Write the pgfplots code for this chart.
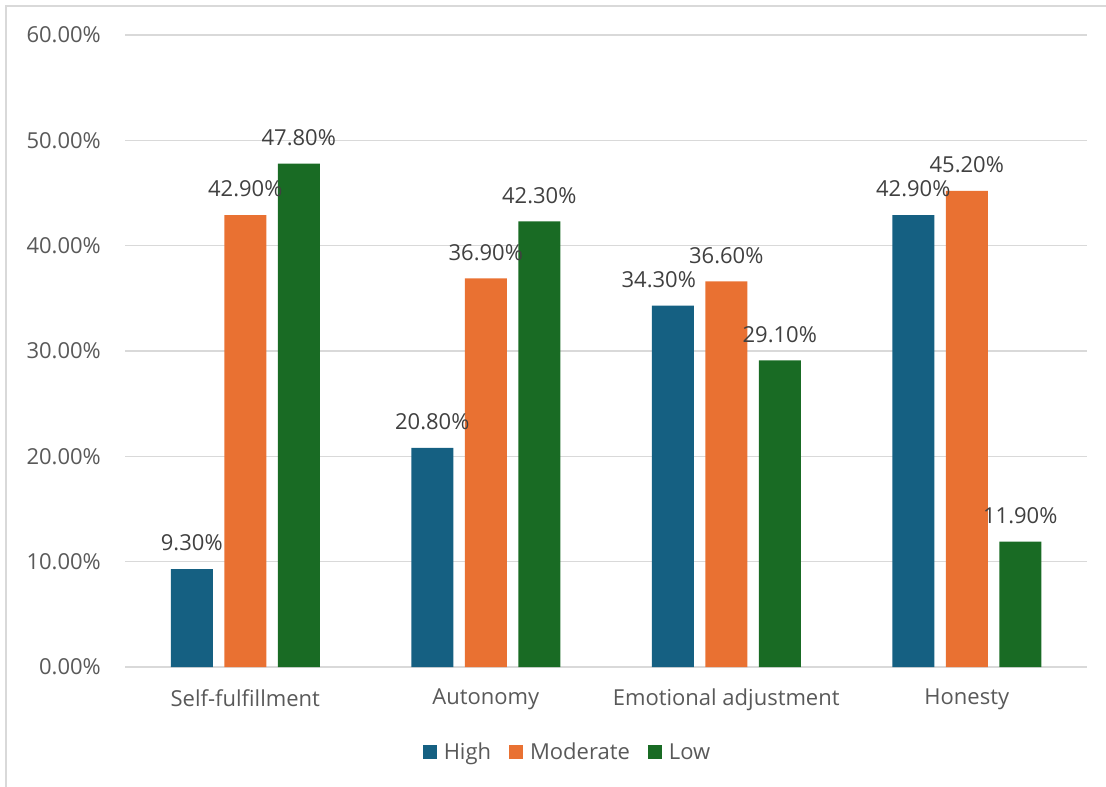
\documentclass[border=0pt]{standalone}
\usepackage{fontspec}
\setmainfont{Open Sans}
\usepackage{pgfplots}
\pgfplotsset{compat=1.18}

\definecolor{cHigh}{HTML}{156082}
\definecolor{cMod}{HTML}{E97132}
\definecolor{cLow}{HTML}{196B24}
\definecolor{gridgray}{HTML}{D9D9D9}
\definecolor{ticktext}{HTML}{595959}
\definecolor{valtext}{HTML}{404040}

\newcommand{\chartfont}{\fontsize{22bp}{26bp}\selectfont}
% value label nudged left so it clears its neighbour
\newcommand{\nudgeleft}[1]{\makebox[0pt]{\kern-28bp #1}}

\begin{document}
\begin{tikzpicture}
\useasboundingbox (0,0) rectangle (1106bp,-787bp);
% chart frame
\draw[gridgray, line width=1.5bp] (6bp,-787bp) -- (6bp,-6bp) -- (1106bp,-6bp);
\begin{axis}[
  at={(125bp,-667bp)}, anchor=south west,
  scale only axis,
  width=962bp, height=632bp,
  xmin=-0.5, xmax=3.5,
  ymin=0, ymax=60,
  ybar=11.5bp, bar width=42bp,
  xtick={0,1,2,3},
  xticklabels={Self-fulfillment, Autonomy, Emotional adjustment, Honesty},
  ytick={0,10,20,30,40,50,60},
  yticklabels={0.00\%,10.00\%,20.00\%,30.00\%,40.00\%,50.00\%,60.00\%},
  axis line style={draw=none},
  major tick length=0pt,
  ymajorgrids,
  major grid style={gridgray, line width=1.5bp},
  yticklabel style={anchor=east, inner sep=0pt, xshift=-24bp, font=\chartfont, text=ticktext},
  xticklabel style={anchor=north, inner sep=0pt, yshift=-22bp, font=\chartfont, text=ticktext},
  clip=false,
  point meta=explicit symbolic,
  nodes near coords,
  nodes near coords style={anchor=center, inner sep=0pt, yshift=26bp, font=\chartfont, text=valtext},
  legend columns=3,
  legend style={
    at={(0.460,-0.1345)}, anchor=center,
    draw=none, fill=none,
    font=\chartfont, text=ticktext,
    /tikz/every odd column/.append style={column sep=5bp},
    /tikz/every even column/.append style={column sep=16bp},
  },
  legend image code/.code={\fill[#1] (0bp,-7bp) rectangle (14bp,7bp);},
]
\addplot[fill=cHigh, draw=none] coordinates {
  (0,9.3)  [9.30\%]
  (1,20.8) [20.80\%]
  (2,34.3) [\nudgeleft{34.30\%}]
  (3,42.9) [42.90\%]
};
\addplot[fill=cMod, draw=none] coordinates {
  (0,42.9) [42.90\%]
  (1,36.9) [36.90\%]
  (2,36.6) [36.60\%]
  (3,45.2) [45.20\%]
};
\addplot[fill=cLow, draw=none] coordinates {
  (0,47.8) [47.80\%]
  (1,42.3) [42.30\%]
  (2,29.1) [29.10\%]
  (3,11.9) [11.90\%]
};
\legend{High, Moderate, Low}
\end{axis}
\end{tikzpicture}
\end{document}
